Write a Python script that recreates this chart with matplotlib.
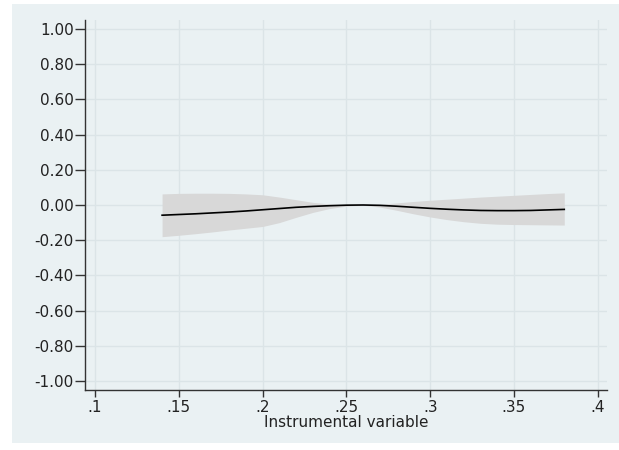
import matplotlib
matplotlib.use("Agg")
import matplotlib.pyplot as plt
from matplotlib.patches import Rectangle

# Instrument values and the estimated effect with its confidence band
iv = [0.14, 0.15, 0.16, 0.17, 0.18, 0.19, 0.20, 0.21, 0.22, 0.23, 0.24, 0.25, 0.26,
      0.27, 0.28, 0.29, 0.30, 0.31, 0.32, 0.33, 0.34, 0.35, 0.36, 0.37, 0.38]
effect = [-0.058, -0.054, -0.050, -0.045, -0.040, -0.034, -0.027, -0.020, -0.013,
          -0.008, -0.004, -0.001, 0.000, -0.002, -0.007, -0.013, -0.019, -0.024,
          -0.028, -0.031, -0.032, -0.032, -0.031, -0.028, -0.025]
upper = [0.063, 0.066, 0.067, 0.067, 0.066, 0.063, 0.058, 0.045, 0.030, 0.015,
         0.006, 0.002, 0.000, 0.004, 0.012, 0.020, 0.027, 0.033, 0.039, 0.045,
         0.050, 0.055, 0.060, 0.065, 0.069]
lower = [-0.180, -0.172, -0.163, -0.153, -0.142, -0.132, -0.122, -0.100, -0.070,
         -0.042, -0.020, -0.006, -0.001, -0.012, -0.030, -0.050, -0.068, -0.083,
         -0.095, -0.104, -0.109, -0.111, -0.112, -0.113, -0.114]

xticks = [0.10, 0.15, 0.20, 0.25, 0.30, 0.35, 0.40]
xticklabels = [".1", ".15", ".2", ".25", ".3", ".35", ".4"]
yticks = [1.0, 0.8, 0.6, 0.4, 0.2, 0.0, -0.2, -0.4, -0.6, -0.8, -1.0]

bg = "#eaf1f3"
grid = "#dbe4e7"
ink = "#333333"

fig = plt.figure(figsize=(6.19, 4.5), dpi=100, facecolor="white")
fig.patches.append(Rectangle((12 / 619, 1 - 443 / 450), 607 / 619, 439 / 450,
                             transform=fig.transFigure, facecolor=bg,
                             edgecolor="none", zorder=-10))

ax = fig.add_axes([85 / 619, 1 - 390 / 450, (607 - 85) / 619, (390 - 20) / 450])
ax.set_zorder(1)
ax.set_facecolor(bg)

ax.fill_between(iv, lower, upper, color="#d8d8d8", linewidth=0, zorder=2)
ax.plot(iv, effect, color="black", linewidth=1.2, zorder=3)

ax.set_xlim(0.094, 0.4055)
ax.set_ylim(-1.051, 1.051)
ax.set_xticks(xticks)
ax.set_xticklabels(xticklabels)
ax.set_yticks(yticks)
ax.set_yticklabels([f"{v:.2f}" for v in yticks])

ax.grid(True, color=grid, linewidth=1.0, zorder=1)
ax.set_axisbelow(True)

for side in ("top", "right"):
    ax.spines[side].set_visible(False)
for side in ("left", "bottom"):
    ax.spines[side].set_color(ink)
    ax.spines[side].set_linewidth(1.0)

ax.tick_params(axis="both", colors=ink, labelcolor="#222222", labelsize=11,
               length=5, width=1.0, pad=2)
ax.tick_params(axis="y", length=7, pad=1)
ax.set_xlabel("Instrumental variable", fontsize=11, color="#222222", labelpad=0)

fig.savefig("out.png", dpi=100, facecolor="white")
